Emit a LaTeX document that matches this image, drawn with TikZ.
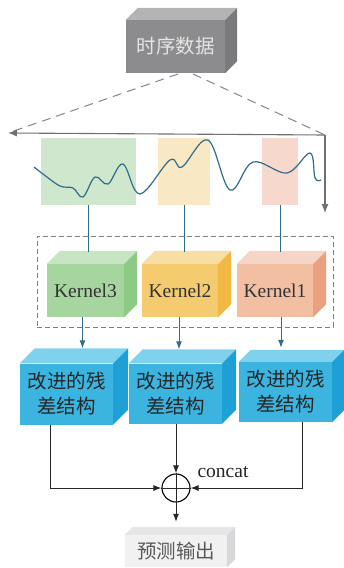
\documentclass[tikz,border=0pt]{standalone}
\usepackage{fontspec}
\setmainfont{Liberation Serif}
\newfontfamily\cjk{Noto Sans CJK SC}
\usetikzlibrary{arrows.meta,calc}
\definecolor{grF}{HTML}{8C8C8E}\definecolor{grT}{HTML}{B4B4B6}\definecolor{grS}{HTML}{7A7A7D}
\definecolor{kgF}{HTML}{A6D5A0}\definecolor{kgT}{HTML}{C8E5C3}\definecolor{kgS}{HTML}{8CCB84}
\definecolor{kyF}{HTML}{F5CB6F}\definecolor{kyT}{HTML}{F7DEA2}\definecolor{kyS}{HTML}{F1B944}
\definecolor{kpF}{HTML}{F2BFA3}\definecolor{kpT}{HTML}{F5D5C5}\definecolor{kpS}{HTML}{EBA07E}
\definecolor{blF}{HTML}{3BB4E0}\definecolor{blT}{HTML}{80D1ED}\definecolor{blS}{HTML}{1EA0D6}
\definecolor{owF}{HTML}{F1F1F2}\definecolor{owT}{HTML}{E6E6E8}\definecolor{owS}{HTML}{D8D8DA}
\definecolor{wave}{HTML}{2F6D8E}
\definecolor{rgreen}{HTML}{CFE7CC}\definecolor{ryellow}{HTML}{F8E8C4}\definecolor{rpink}{HTML}{F6D8CD}
\definecolor{lgray}{HTML}{707072}
\newcommand{\mycube}[9]{%
  \node[fill=#7F, minimum width=#4pt, minimum height=#5pt, inner sep=0pt, align=center, #9] (#1) at (#2,#3) {#8};
  \fill[#7T] (#1.north west) -- ++(#6pt,#6pt) -- ([shift={(#6pt,#6pt)}]#1.north east) -- (#1.north east) -- cycle;
  \fill[#7S] (#1.north east) -- ++(#6pt,#6pt) -- ([shift={(#6pt,#6pt)}]#1.south east) -- (#1.south east) -- cycle;
}
\begin{document}
\begin{tikzpicture}[x=1pt,y=-1pt,
  cjktext/.style={font=\cjk\fontsize{19.5}{25}\selectfont},
  kerneltext/.style={font=\fontsize{19.5}{22}\selectfont, text=black!80},
  graydash/.style={draw=lgray!85, line width=1pt, dash pattern=on 9pt off 6pt},
  grayarrow/.style={draw=lgray, line width=1.1pt, -{Latex[length=9pt,width=7pt]}},
  teal/.style={draw=wave, line width=1pt},
  tealarrow/.style={draw=wave, line width=1pt, -{Latex[length=8pt,width=6pt]}},
  blackarrow/.style={draw=black!85, line width=1pt, -{Latex[length=8pt,width=6pt]}},
  winrect/.style={minimum height=67pt, inner sep=0pt}
]
\useasboundingbox (0,0) rectangle (344,568);

% top box
\mycube{ts}{175.5}{46.5}{99}{53}{12}{gr}{时序数据}{cjktext, text=black!10}

% dashed fan and gray arrows
\coordinate (fl) at (178,74);
\coordinate (fr) at (193,74);
\coordinate (lend) at (8,133);
\coordinate (rc) at (325,135);
\coordinate (dend) at (325,213);
\draw[graydash] (fl) -- (lend);
\draw[graydash] (fr) -- (rc);
\draw[grayarrow] (rc) -- (lend);
\draw[grayarrow] (rc) -- (dend);

% windows
\node[winrect, fill=rgreen, minimum width=95pt] (wg) at (88.5,171) {};
\node[winrect, fill=ryellow, minimum width=52pt] (wy) at (184,171.5) {};
\node[winrect, fill=rpink, minimum width=36pt] (wp) at (280,171.5) {};

% wave
\draw[wave, line width=1.2pt] plot[smooth, tension=0.6] coordinates {
 (34,167) (43,174) (60,186) (73,188) (83,197) (95,177) (108,184) (123,164)
 (140,194) (170,160) (182,167) (208,140) (230,190) (253,162) (287,173)
 (310,153) (315,178) (321,180)};

% dashed frame
\node[draw=lgray!90, dash pattern=on 5pt off 3pt, line width=0.8pt, minimum width=296pt, minimum height=91pt, inner sep=0pt] (frame) at (185,281.5) {};

% kernels
\mycube{k3}{85.5}{290.5}{77}{53}{13}{kg}{Kernel3}{kerneltext}
\mycube{k2}{180}{290.5}{76}{53}{13}{ky}{Kernel2}{kerneltext}
\mycube{k1}{275}{290.5}{76}{53}{13}{kp}{Kernel1}{kerneltext}

\draw[teal] (wg.south) -- ([yshift=12pt]wg.south |- k3.north);
\draw[teal] (wy.south) -- ([yshift=12pt]wy.south |- k2.north);
\draw[teal] (wp.south) -- ([yshift=12pt]wp.south |- k1.north);

% residual blocks
\mycube{r1}{66.5}{394}{93}{61}{15}{bl}{改进的残\\差结构}{cjktext, text=black!85}
\mycube{r2}{175.5}{393.5}{93}{60}{14}{bl}{改进的残\\差结构}{cjktext, text=black!85}
\mycube{r3}{285.5}{392}{93}{60}{12}{bl}{改进的残\\差结构}{cjktext, text=black!85}

\draw[tealarrow] ([xshift=-3pt]k3.south) -- ([xshift=-3pt,yshift=15pt]k3.south |- r1.north);
\draw[tealarrow] ([xshift=-1pt]k2.south) -- ([xshift=-1pt,yshift=14pt]k2.south |- r2.north);
\draw[tealarrow] ([xshift=6pt]k1.south) -- ([xshift=6pt,yshift=14pt]k1.south |- r3.north);

% concat
\node[draw=black, line width=1.1pt, circle, minimum size=28pt, inner sep=0pt] (cc) at (176,488) {};
\draw[black!85, line width=1pt] (cc.north) -- (cc.south) (cc.west) -- (cc.east);
\node[font=\fontsize{19.5}{22}\selectfont, text=black!85, anchor=west] (ct) at (194,472) {concat};

\draw[blackarrow] ([xshift=-16.5pt]r1.south) |- (cc.west);
\draw[blackarrow] ([xshift=16.5pt]r3.south) |- (cc.east);
\draw[blackarrow] ([xshift=0.5pt]r2.south) -- (cc.north);

% output
\mycube{out}{176}{551}{102}{32}{8}{ow}{预测输出}{cjktext, text=black!65}
\draw[blackarrow] (cc.south) -- ([yshift=13pt]out.north);
\end{tikzpicture}
\end{document}
